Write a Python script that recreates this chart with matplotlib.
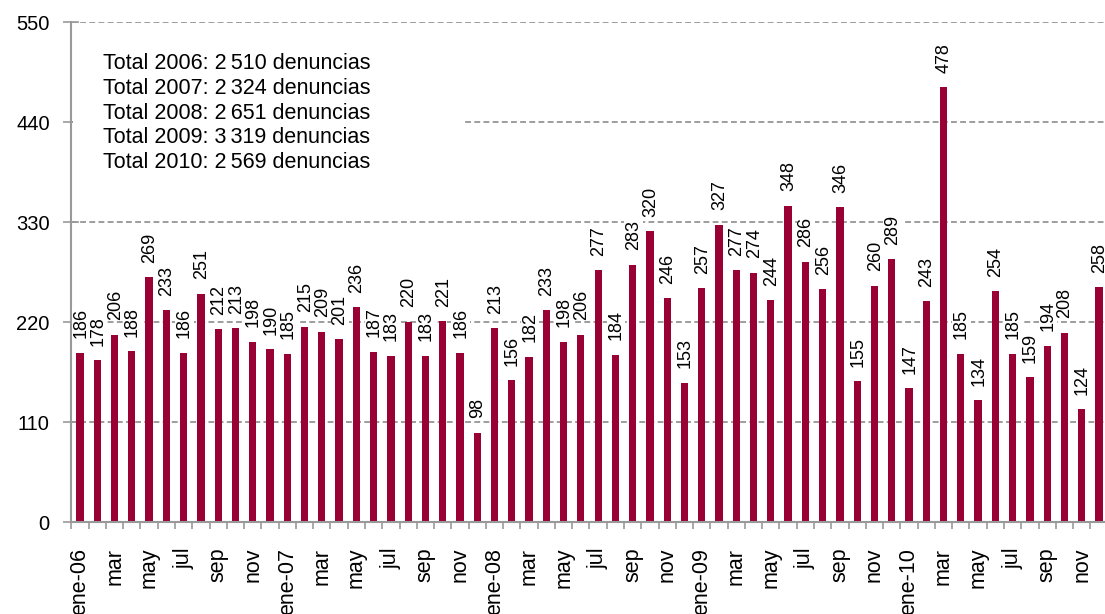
import matplotlib
matplotlib.use("Agg")
import matplotlib.pyplot as plt
from matplotlib.patches import Rectangle

plt.rcParams['font.family'] = ['Liberation Sans', 'DejaVu Sans']

# Monthly complaints 2006-2010
values_2006 = [186, 178, 206, 188, 269, 233, 186, 251, 212, 213, 198, 190]
values_2007 = [185, 215, 209, 201, 236, 187, 183, 220, 183, 221, 186, 98]
values_2008 = [213, 156, 182, 233, 198, 206, 277, 184, 283, 320, 246, 153]
values_2009 = [257, 327, 277, 274, 244, 348, 286, 256, 346, 155, 260, 289]
values_2010 = [147, 243, 478, 185, 134, 254, 185, 159, 194, 208, 124, 258]
values = values_2006 + values_2007 + values_2008 + values_2009 + values_2010

month_labels = ["ene", "mar", "may", "jul", "sep", "nov"]
years = ["06", "07", "08", "09", "10"]
tick_labels = []
for y in years:
    for m in month_labels:
        tick_labels.append(f"ene-{y}" if m == "ene" else m)

totals_text = [
    "Total 2006: 2\u2009510 denuncias",
    "Total 2007: 2\u2009324 denuncias",
    "Total 2008: 2\u2009651 denuncias",
    "Total 2009: 3\u2009319 denuncias",
    "Total 2010: 2\u2009569 denuncias",
]

y_ticks = [0, 110, 220, 330, 440, 550]

BAR = "#990033"
GRID = "#8c8c8c"
AXIS = "#999999"

fig = plt.figure(figsize=(11.05, 6.14), dpi=100)
W, H = 1105, 614
left_px, right_px = 71.4, 1107.6
top_px, bot_px = 22, 522
ax = fig.add_axes([left_px / W, 1 - bot_px / H, (right_px - left_px) / W, (bot_px - top_px) / H])

x = list(range(len(values)))
ax.bar(x, values, width=0.42, color=BAR, zorder=2)

ax.set_xlim(-0.5, len(values) - 0.5)
ax.set_ylim(0, 550)
ax.set_axisbelow(True)

ax.set_yticks(y_ticks)
ax.set_yticklabels([str(v) for v in y_ticks], fontsize=14.5)
ax.yaxis.grid(True, color=GRID, linestyle=(0, (3.5, 2)), linewidth=1.2)
ax.tick_params(axis='y', direction='inout', length=11, width=1.2, color=AXIS, pad=10)

# major ticks (labels) at every other month centre, minor ticks at boundaries
ax.set_xticks(x[::2])
ax.set_xticklabels(tick_labels, rotation=90, fontsize=15.5, va='top', ha='center')
ax.set_xticks([i - 0.5 for i in range(len(values) + 1)], minor=True)
ax.tick_params(axis='x', which='major', length=0, pad=18.5)
ax.tick_params(axis='x', which='minor', direction='out', length=5, width=1.2, color=AXIS)

for s in ['top', 'right']:
    ax.spines[s].set_visible(False)
for s in ['left', 'bottom']:
    ax.spines[s].set_color(AXIS)
    ax.spines[s].set_linewidth(1.5)

for i, v in enumerate(values):
    ax.annotate(str(v), (i, v), xytext=(0.5, 10.5), textcoords='offset points',
                rotation=90, ha='center', va='bottom', fontsize=13,
                bbox=dict(facecolor='white', edgecolor='none', pad=0.5),
                zorder=4, annotation_clip=False)

# white text box covering the grid
axw = right_px - left_px
ax.add_patch(Rectangle(((73 - left_px) / axw, (bot_px - 178) / 500), (462 - 73) / axw, (178 - 40) / 500,
                       transform=ax.transAxes, facecolor='white', edgecolor='none', zorder=1.5))
for k, t in enumerate(totals_text):
    ax.text((103 - left_px) / axw, (bot_px - 69 - 24.8 * k) / 500, t, transform=ax.transAxes,
            fontsize=15.5, ha='left', va='baseline', zorder=5)

fig.savefig("out.png", dpi=100)
